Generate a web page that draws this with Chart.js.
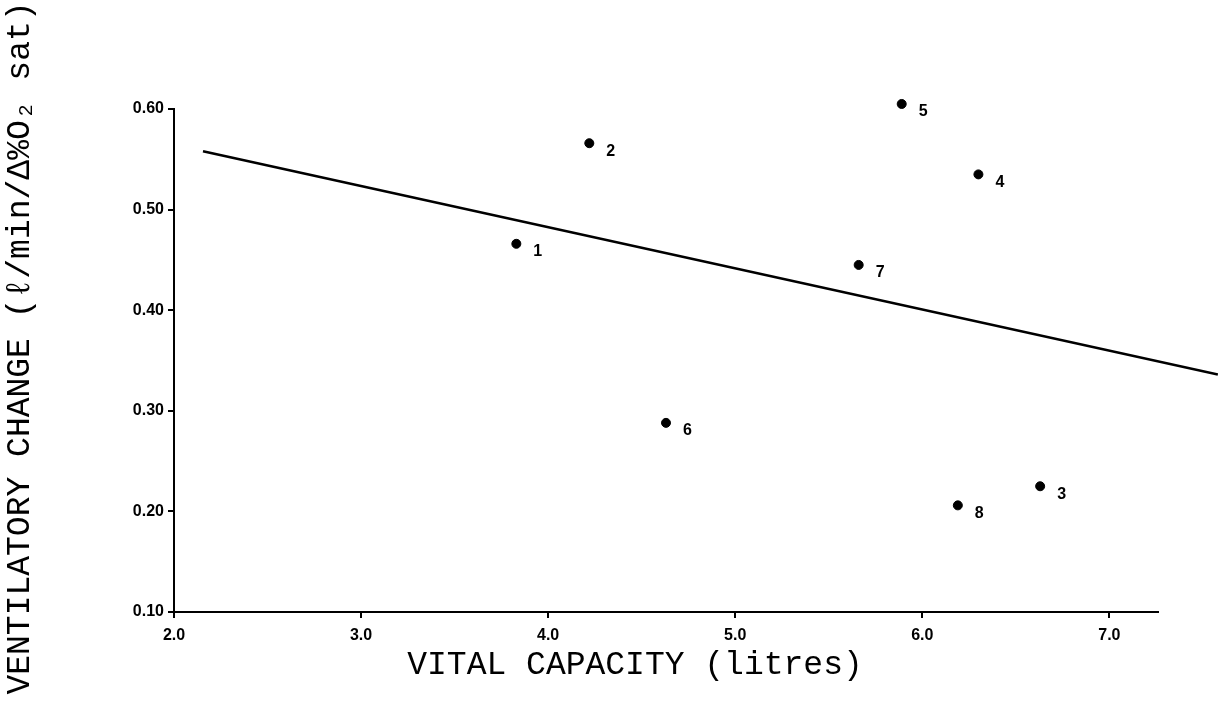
<!DOCTYPE html>
<html>
<head>
<meta charset="utf-8">
<script src="https://cdn.jsdelivr.net/npm/chart.js@4.4.1/dist/chart.umd.min.js"></script>
<style>
  html, body { margin: 0; padding: 0; background: #ffffff; }
  #wrap { width: 1218px; height: 704px; position: relative; }
</style>
</head>
<body>
<div id="wrap"><canvas id="c" width="1218" height="704"></canvas></div>
<script>
// ---- data ----
const subjectIds    = ['1', '2', '3', '4', '5', '6', '7', '8'];
const vitalCapacity = [3.83, 4.22, 6.63, 6.30, 5.89, 4.63, 5.66, 6.19];   // litres
const ventChange    = [0.466, 0.566, 0.225, 0.535, 0.605, 0.288, 0.445, 0.206];
const regLineX      = [2.155, 7.58];
const regLineY      = [0.558, 0.336];
const xTickValues   = [2, 3, 4, 5, 6, 7];
const xTickLabels   = ['2.0', '3.0', '4.0', '5.0', '6.0', '7.0'];
const yTickValues   = [0.1, 0.2, 0.3, 0.4, 0.5, 0.6];
const yTickLabels   = ['0.10', '0.20', '0.30', '0.40', '0.50', '0.60'];
const xTitle = 'VITAL CAPACITY (litres)';
const yTitle = 'VENTILATORY CHANGE (\u2113/min/\u0394%O\u2082 sat)';

const scatterPoints = vitalCapacity.map((v, i) => ({ x: v, y: ventChange[i] }));
const linePoints = regLineX.map((v, i) => ({ x: v, y: regLineY[i] }));

const tickFont = { family: "'Liberation Sans Narrow', 'Liberation Sans', Arial, sans-serif", size: 16, weight: 'bold' };
const titleFontCss = "33px 'Liberation Mono', 'DejaVu Sans Mono', monospace";

const pointLabelPlugin = {
  id: 'pointLabels',
  afterDatasetsDraw(chart) {
    const meta = chart.getDatasetMeta(0);
    const ctx = chart.ctx;
    ctx.save();
    ctx.fillStyle = '#000';
    ctx.font = "bold 16px 'Liberation Sans Narrow', 'Liberation Sans', Arial, sans-serif";
    ctx.textAlign = 'left';
    ctx.textBaseline = 'middle';
    meta.data.forEach((pt, i) => {
      ctx.fillText(subjectIds[i], pt.x + 17, pt.y + 8);
    });
    ctx.restore();
  }
};

const axisTitlePlugin = {
  id: 'axisTitles',
  afterDraw(chart) {
    const ctx = chart.ctx;
    ctx.save();
    ctx.fillStyle = '#000';
    ctx.font = titleFontCss;
    ctx.textAlign = 'center';
    ctx.textBaseline = 'middle';
    ctx.fillText(xTitle, 635, 665);
    ctx.translate(20, 348);
    ctx.rotate(-Math.PI / 2);
    ctx.fillText(yTitle, 0, 0);
    ctx.restore();
  }
};

new Chart(document.getElementById('c'), {
  type: 'scatter',
  data: {
    datasets: [
      {
        label: 'Subjects',
        data: scatterPoints,
        backgroundColor: '#000',
        borderColor: '#000',
        pointRadius: 4.5,
        pointHoverRadius: 4.5,
        clip: false
      },
      {
        type: 'line',
        label: 'Regression',
        data: linePoints,
        borderColor: '#000',
        borderWidth: 2.5,
        pointRadius: 0,
        fill: false,
        clip: false
      }
    ]
  },
  options: {
    responsive: false,
    devicePixelRatio: 1,
    animation: false,
    layout: { padding: { left: 0, top: 109, right: 60, bottom: 0 } },
    plugins: { legend: { display: false }, tooltip: { enabled: false } },
    scales: {
      x: {
        type: 'linear',
        min: 2,
        max: 7.26,
        afterBuildTicks(scale) { scale.ticks = xTickValues.map(v => ({ value: v })); },
        afterFit(scale) { scale.height = 92; },
        ticks: {
          font: tickFont, color: '#000', padding: 8,
          callback(value) { const i = xTickValues.indexOf(value); return i >= 0 ? xTickLabels[i] : ''; }
        },
        grid: { drawOnChartArea: false, drawTicks: true, tickLength: 6, color: '#000', lineWidth: 2 },
        border: { display: true, color: '#000', width: 2 },
        title: { display: false }
      },
      y: {
        type: 'linear',
        min: 0.1,
        max: 0.6,
        afterBuildTicks(scale) { scale.ticks = yTickValues.map(v => ({ value: v })); },
        afterFit(scale) { scale.width = 174; },
        ticks: {
          font: tickFont, color: '#000', padding: 4,
          callback(value) { const i = yTickValues.findIndex(v => Math.abs(v - value) < 1e-9); return i >= 0 ? yTickLabels[i] : ''; }
        },
        grid: { drawOnChartArea: false, drawTicks: true, tickLength: 6, color: '#000', lineWidth: 2 },
        border: { display: true, color: '#000', width: 2 },
        title: { display: false }
      }
    }
  },
  plugins: [pointLabelPlugin, axisTitlePlugin]
});
</script>
</body>
</html>
